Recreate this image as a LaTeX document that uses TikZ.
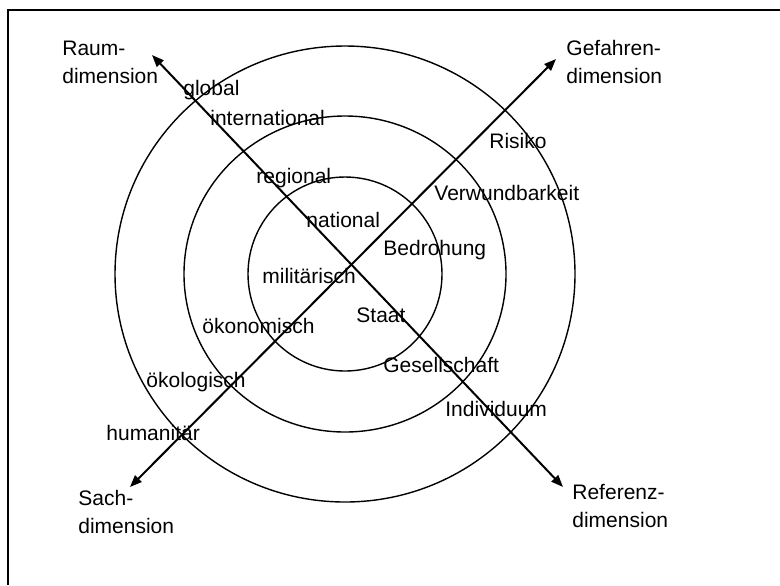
\documentclass[tikz,border=0pt]{standalone}
\usepackage{fontspec}
\setmainfont{Liberation Sans}
\usetikzlibrary{arrows.meta}
\begin{document}
\begin{tikzpicture}[x=0.5pt,y=-0.5pt,
  ring/.style={line width=0.7pt},
  axis/.style={line width=1pt,{Triangle[length=6pt,width=4.6pt]}-{Triangle[length=6pt,width=4.6pt]}},
  lbl/.style={inner sep=0pt,anchor=base west,font=\fontsize{10.5}{14}\selectfont},
  dimlbl/.style={lbl,align=left}]
\useasboundingbox (0,0) rectangle (780,585);
\draw[line width=1.2pt] (8,585) -- (8,10) -- (780,10);
% rings
\coordinate (c) at (345,274);
\draw[ring] (c) ellipse [x radius=97, y radius=97];
\draw[ring] (c) ellipse [x radius=161, y radius=158];
\draw[ring] (c) ellipse [x radius=230, y radius=228];
% axis tips
\coordinate (raumtip) at (152,55);
\coordinate (geftip) at (556,59);
\coordinate (sachtip) at (130,487);
\coordinate (reftip) at (563,487);
\draw[axis] (raumtip) -- (reftip);
\draw[axis] (sachtip) -- (geftip);
% dimension labels (base = last line)
\node[dimlbl] (raum) at (62,83) {Raum-\\dimension};
\node[dimlbl] (gef) at (566,83) {Gefahren-\\dimension};
\node[dimlbl] (sach) at (78,533) {Sach-\\dimension};
\node[dimlbl] (ref) at (572,527) {Referenz-\\dimension};
% ring labels
\node[lbl] (global) at (183,95) {global};
\node[lbl] (international) at (210,125) {international};
\node[lbl] (regional) at (256,183) {regional};
\node[lbl] (national) at (306,227) {national};
\node[lbl] (risiko) at (489,148) {Risiko};
\node[lbl] (verwund) at (434,200) {Verwundbarkeit};
\node[lbl] (bedrohung) at (383,255) {Bedrohung};
\node[lbl] (militaer) at (262,283) {militärisch};
\node[lbl] (staat) at (356,322) {Staat};
\node[lbl] (oekonom) at (202,333) {ökonomisch};
\node[lbl] (gesell) at (383,372) {Gesellschaft};
\node[lbl] (oekolog) at (146,387) {ökologisch};
\node[lbl] (indiv) at (445,416) {Individuum};
\node[lbl] (human) at (106,440) {humanitär};
\end{tikzpicture}
\end{document}
